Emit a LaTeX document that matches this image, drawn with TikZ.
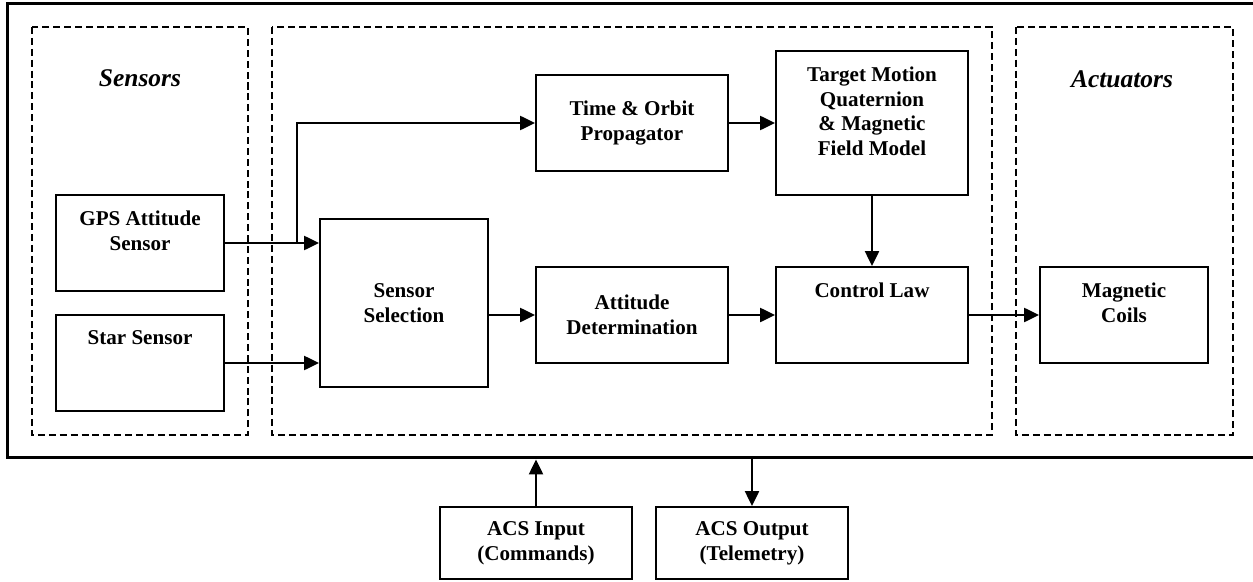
\documentclass[tikz,border=0pt]{standalone}
\usepackage{fontspec}
\setmainfont{Liberation Serif}
\usetikzlibrary{arrows.meta}

\begin{document}
\begin{tikzpicture}[x=0.02cm,y=-0.02cm,>={Triangle[length=8.5pt,width=8pt]},
  font=\bfseries\fontsize{12}{14}\selectfont,
  blk/.style={draw,line width=1.1pt,inner sep=0pt,align=center},
  toptext/.style={anchor=north,yshift=-0.33cm,inner sep=0pt,align=center},
  grp/.style={line width=0.9pt,dash pattern=on 4pt off 2.2pt},
  grptitle/.style={font=\bfseries\itshape\fontsize{14.5}{17}\selectfont},
  link/.style={->,line width=1.1pt}]
\useasboundingbox (0,0) rectangle (1253,581);
\clip (0,0) rectangle (1253,581);
% outer frame and groups
\node[draw,line width=1.7pt,inner sep=0pt,minimum width=24.98cm,minimum height=9.1cm] (acs) at (631.5,230.5) {};
\draw[grp] (32,27) rectangle (248,435);
\draw[grp] (272,27) rectangle (992,435);
\draw[grp] (1016,27) rectangle (1233,435);
\node[grptitle] (senstitle) at (140,78) {Sensors};
\node[grptitle] (acttitle) at (1122,79) {Actuators};
% blocks
\node[blk,minimum width=3.36cm,minimum height=1.92cm,label={[toptext]north:{GPS Attitude\\Sensor}}] (gps) at (140,243) {};
\node[blk,minimum width=3.36cm,minimum height=1.92cm,label={[toptext]north:{Star Sensor}}] (star) at (140,363) {};
\node[blk,minimum width=3.36cm,minimum height=3.36cm] (sel) at (404,303) {Sensor\\Selection};
\node[blk,minimum width=3.84cm,minimum height=1.92cm] (orbit) at (632,123) {Time \& Orbit\\Propagator};
\node[blk,minimum width=3.84cm,minimum height=1.92cm] (att) at (632,315) {Attitude\\Determination};
\node[blk,minimum width=3.84cm,minimum height=2.88cm,label={[toptext]north:{Target Motion\\Quaternion\\\& Magnetic\\Field Model}}] (target) at (872,123) {};
\node[blk,minimum width=3.84cm,minimum height=1.92cm,label={[toptext]north:{Control Law}}] (law) at (872,315) {};
\node[blk,minimum width=3.36cm,minimum height=1.92cm,label={[toptext]north:{Magnetic\\Coils}}] (coils) at (1124,315) {};
\node[blk,minimum width=3.84cm,minimum height=1.44cm] (acsin) at (536,543) {ACS Input\\(Commands)};
\node[blk,minimum width=3.84cm,minimum height=1.44cm] (acsout) at (752,543) {ACS Output\\(Telemetry)};
% connectors
\coordinate (split) at (297,243);
\draw[link] (gps.east) -- (gps.east -| sel.west);
\draw[link] (split) |- (orbit.west);
\draw[link] (star.east) -- (star.east -| sel.west);
\draw[link] (att.west -| sel.east) -- (att.west);
\draw[link] (orbit.east) -- (target.west);
\draw[link] (att.east) -- (law.west);
\draw[link] (target.south) -- (law.north);
\draw[link] (law.east) -- (coils.west);
\draw[link] (acsin.north) -- (acsin.north |- acs.south);
\draw[link] (acs.south -| acsout.north) -- (acsout.north);
\end{tikzpicture}
\end{document}
